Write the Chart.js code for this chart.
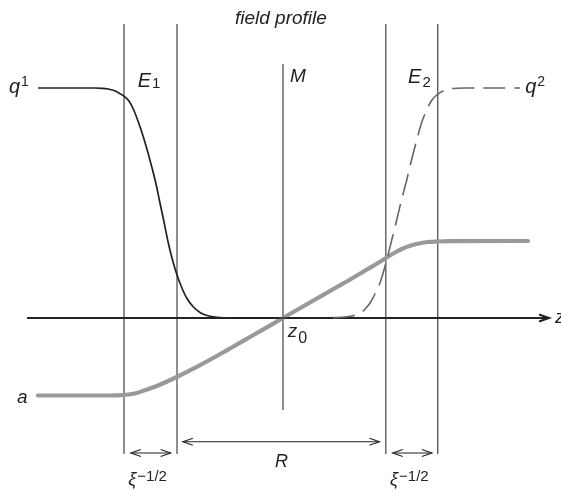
<!DOCTYPE html>
<html><head><meta charset="utf-8">
<script src="https://cdn.jsdelivr.net/npm/chart.js@4"></script>
<style>html,body{margin:0;padding:0;background:#fff;overflow:hidden}canvas{display:block}</style>
</head><body>
<canvas id="c" width="561" height="491"></canvas>
<script>
// ---- data (z in units of xi^-1/2 from z0, field value normalised to q = 1) ----
const boundaryZ = [-3.0, -2.0, 1.94, 2.92];      // E1 left, E1 right, E2 left, E2 right
const midZ = 0;                                   // M / z0
const q1Z   = [-4.623,-3.547,-3.415,-3.302,-3.189,-3.094,-2.987,-2.906,-2.825,-2.736,-2.636,-2.557,-2.477,-2.396,-2.321,-2.245,-2.164,-2.085,-2.0,-1.915,-1.817,-1.698,-1.566,-1.415,-1.251,-1.0,0.132];
const q1Val = [1,1,0.9987,0.9957,0.9891,0.9783,0.9622,0.9435,0.9087,0.8565,0.7883,0.7261,0.6578,0.5826,0.5,0.4174,0.3261,0.2522,0.187,0.1348,0.087,0.05,0.0239,0.0096,0.003,0,0];
const q2Z   = [0.943,1.170,1.302,1.396,1.491,1.566,1.642,1.736,1.830,1.957,2.047,2.145,2.236,2.334,2.425,2.523,2.613,2.711,2.792,2.9,3.019,3.151,3.283,3.434,4.472];
const q2Val = [0.0017,0.0043,0.0087,0.0152,0.0261,0.0435,0.0652,0.1043,0.1522,0.2522,0.3348,0.4261,0.513,0.6,0.687,0.7739,0.8478,0.9043,0.9413,0.9696,0.987,0.9957,0.9991,1,1];
const aZ    = [-4.623,-3.264,-3.0,-2.849,-2.698,-2.547,-2.383,-2.208,-2.006,-1.792,-1.566,-1.283,-1.0,-0.623,0,0.623,1.0,1.283,1.566,1.792,1.957,2.113,2.264,2.415,2.585,2.736,2.9,3.151,4.623];
const aVal  = [-0.337,-0.337,-0.3348,-0.3304,-0.3217,-0.31,-0.2957,-0.2783,-0.2565,-0.2317,-0.2052,-0.1696,-0.1326,-0.0826,0,0.0826,0.1326,0.1696,0.2087,0.2391,0.263,0.2848,0.3022,0.3152,0.3252,0.3304,0.3326,0.3339,0.3348];
const axisZ = [-4.83, 5.02];
const lineTop = 1.278, lineBottom = -0.591;       // extent of E boundary lines
const midTop = 1.104, midBottom = -0.4;           // extent of M line
const rArrowZ = [-1.89, 1.82], rArrowY = -0.538;  // R between E1 and E2
const xiArrowY = -0.587;
const xiArrowZ = [[-2.87,-2.12],[2.07,2.81]];

const pts = (xs, ys) => xs.map((x,i)=>({x, y: ys[i]}));
const vline = (z, a, b) => [{x:z,y:a},{x:z,y:b}];

const FONT = '"Liberation Sans", Arial, Helvetica, sans-serif';
const INK = '#222';

const labels = [
  {text:'field profile', z:-0.04, v:1.278, size:19, align:'center'},
  {text:'q', sup:'1', z:-5.17, v:0.978, size:20, supSize:14, supDy:-7},
  {text:'E', sub:'1', z:-2.74, v:1.004, size:20, subSize:15, subDy:1},
  {text:'M', z:0.13, v:1.026, size:19},
  {text:'E', sub:'2', z:2.36, v:1.022, size:20, subSize:15, subDy:4},
  {text:'q', sup:'2', z:4.57, v:0.978, size:20, supSize:14, supDy:-7},
  {text:'z', sub:'0', z:0.09, v:-0.083, size:19, subSize:16, subDy:6},
  {text:'a', z:-5.02, v:-0.37, size:19},
  {text:'R', z:-0.15, v:-0.648, size:18},
  {text:'\u03BE', sup:'\u22121/2', z:-2.92, v:-0.726, size:18, supSize:15, supDy:-4},
  {text:'\u03BE', sup:'\u22121/2', z:2.02, v:-0.726, size:18, supSize:15, supDy:-4},
  {text:'z', z:5.13, v:-0.022, size:19}
];

const lineDS = (data, color, width, extra) => Object.assign({
  data, showLine:true, borderColor:color, borderWidth:width, pointRadius:0,
  fill:false, tension:0
}, extra||{});

const datasets = [
  lineDS(pts(axisZ,[0,0]), INK, 2, {order:3, arrow:'end'}),
  ...boundaryZ.map(z => lineDS(vline(z, lineTop, lineBottom), '#444', 1.2, {order:4})),
  lineDS(vline(midZ, midTop, midBottom), '#444', 1.2, {order:4}),
  lineDS(pts(q1Z,q1Val), INK, 1.7, {order:1, cubicInterpolationMode:'monotone'}),
  lineDS(pts(q2Z,q2Val), '#666', 1.6, {order:1, cubicInterpolationMode:'monotone', borderDash:[22,9]}),
  lineDS(pts(aZ,aVal), '#999', 4.2, {order:2, cubicInterpolationMode:'monotone', borderCapStyle:'round'}),
  lineDS(pts(rArrowZ,[rArrowY,rArrowY]), INK, 1.1, {order:3, arrow:'both'}),
  ...xiArrowZ.map(p => lineDS(pts(p,[xiArrowY,xiArrowY]), INK, 1.1, {order:3, arrow:'both'}))
];

function chevron(ctx, tx, ty, dir, len, half) {
  ctx.beginPath();
  ctx.moveTo(tx - dir*len, ty - half);
  ctx.lineTo(tx, ty);
  ctx.lineTo(tx - dir*len, ty + half);
  ctx.stroke();
}

const decor = {
  id:'decor',
  afterDatasetsDraw(chart) {
    const ctx = chart.ctx;
    ctx.save();
    chart.data.datasets.forEach((ds, i) => {
      if (!ds.arrow) return;
      const el = chart.getDatasetMeta(i).data;
      const a = el[0], b = el[el.length-1];
      ctx.strokeStyle = ds.borderColor; ctx.lineWidth = ds.borderWidth;
      chevron(ctx, b.x, b.y, 1, 10, 3.5);
      if (ds.arrow === 'both') chevron(ctx, a.x, a.y, -1, 10, 3.5);
    });
    const xs = chart.scales.x, ys = chart.scales.y;
    ctx.fillStyle = INK;
    ctx.textBaseline = 'alphabetic';
    ctx.textAlign = 'left';
    labels.forEach(L => {
      const px = xs.getPixelForValue(L.z), py = ys.getPixelForValue(L.v);
      ctx.font = `italic ${L.size}px ${FONT}`;
      const w = ctx.measureText(L.text).width;
      let extra = 0, small = L.sup || L.sub, sSize = L.supSize || L.subSize;
      if (small) { ctx.font = `${sSize}px ${FONT}`; extra = ctx.measureText(small).width + 1; }
      let x0 = L.align === 'center' ? px - (w+extra)/2 : px;
      ctx.font = `italic ${L.size}px ${FONT}`;
      ctx.fillText(L.text, x0, py);
      if (small) {
        ctx.font = `${sSize}px ${FONT}`;
        ctx.fillText(small, x0 + w + 1, py + (L.sup ? L.supDy : L.subDy));
      }
    });
    ctx.restore();
  }
};

new Chart(document.getElementById('c'), {
  type:'scatter',
  data:{datasets},
  options:{
    responsive:false, animation:false,
    layout:{padding:0},
    plugins:{legend:{display:false}, tooltip:{enabled:false}},
    scales:{
      x:{type:'linear', display:false, min:-283/53, max:278/53},
      y:{type:'linear', display:false, min:-173/230, max:318/230}
    }
  },
  plugins:[decor]
});
</script></body></html>
